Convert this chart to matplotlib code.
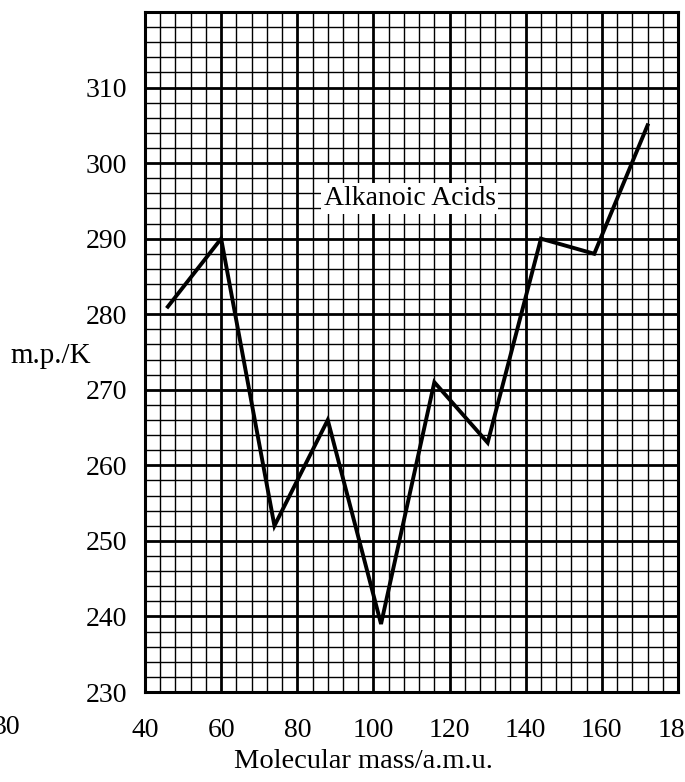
import numpy as np
import matplotlib.pyplot as plt
from matplotlib.ticker import MultipleLocator

# datos: acidos alcanoicos
masa = [46, 60, 74, 88, 102, 116, 130, 144, 158, 172]
pf = [281, 290, 252, 266, 239, 271, 263, 290, 288, 305]

x_ticks = [40, 60, 80, 100, 120, 140, 160, 180]
y_ticks = [230, 240, 250, 260, 270, 280, 290, 300, 310]

plt.rcParams['font.family'] = ['Liberation Serif', 'DejaVu Serif']

fig = plt.figure(figsize=(6.85, 7.82), dpi=100)
ax = fig.add_axes([145 / 685, 1 - 692 / 782, 533 / 685, 680 / 782])

ax.plot(masa, pf, color='black', lw=2.8, solid_joinstyle='miter', zorder=5)

ax.set_xlim(40, 180)
ax.set_ylim(230, 320)
ax.set_xticks(x_ticks)
ax.set_yticks(y_ticks)
ax.xaxis.set_minor_locator(MultipleLocator(4))
ax.yaxis.set_minor_locator(MultipleLocator(2))

# papel milimetrado
ax.grid(which='major', color='black', lw=2.0)
ax.grid(which='minor', color='black', lw=1.0)
ax.set_axisbelow(True)
for s in ax.spines.values():
    s.set_linewidth(2.2)

ax.tick_params(which='both', length=0)
ax.tick_params(axis='y', pad=13, labelsize=20)
ax.tick_params(axis='x', pad=19, labelsize=20)

ax.text(109.5, 295.3, 'Alkanoic Acids', fontsize=20, ha='center', va='center',
        bbox=dict(facecolor='white', edgecolor='none', pad=2), zorder=6)

fig.text(10 / 685, 1 - 356 / 782, 'm.p./K', fontsize=21, ha='left', va='center')
fig.text(363 / 685, 1 - 762 / 782, 'Molecular mass/a.m.u.', fontsize=20.5,
         ha='center', va='center')
fig.text(-7 / 685, 1 - 728 / 782, '30', fontsize=20, ha='left', va='center')

fig.savefig('out.png', dpi=100)
